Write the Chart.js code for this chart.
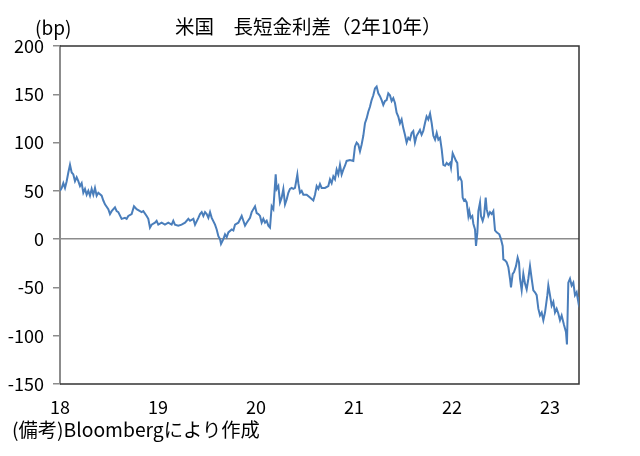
<!DOCTYPE html>
<html>
<head>
<meta charset="utf-8">
<script src="https://cdn.jsdelivr.net/npm/chart.js@4"></script>
<style>
  body { margin: 0; background: #fff; }
  #wrap { position: relative; width: 640px; height: 456px; font-family: "Noto Sans CJK JP", sans-serif; color: #000; }
  .lbl { position: absolute; white-space: nowrap; line-height: 1; }
</style>
</head>
<body>
<div id="wrap">
  <canvas id="spreadChart" width="640" height="456"></canvas>
  <div class="lbl" style="left:35px; top:17px; font-size:19px;">(bp)</div>
  <div class="lbl" style="left:175px; top:16px; font-size:19.5px;">米国　長短金利差（2年10年）</div>
  <div class="lbl" style="left:12px; top:420px; font-size:19.3px;">(備考)Bloombergにより作成</div>
</div>
<script>
// 年（18 = 2018年初）
var years = [
  18.000, 18.017, 18.034, 18.051, 18.068, 18.085, 18.102, 18.119, 18.136, 18.153,
  18.170, 18.187, 18.204, 18.221, 18.238, 18.255, 18.272, 18.289, 18.306, 18.323,
  18.340, 18.357, 18.374, 18.391, 18.425, 18.442, 18.459, 18.493, 18.510, 18.527,
  18.561, 18.578, 18.595, 18.629, 18.663, 18.680, 18.697, 18.731, 18.755, 18.782,
  18.816, 18.833, 18.850, 18.884, 18.901, 18.918, 18.935, 18.969, 18.986, 19.003,
  19.037, 19.071, 19.105, 19.139, 19.156, 19.173, 19.207, 19.241, 19.276, 19.310,
  19.327, 19.361, 19.378, 19.412, 19.429, 19.446, 19.463, 19.480, 19.497, 19.514,
  19.531, 19.548, 19.582, 19.599, 19.616, 19.633, 19.643, 19.667, 19.684, 19.701,
  19.718, 19.752, 19.769, 19.786, 19.820, 19.854, 19.871, 19.888, 19.905, 19.939,
  19.956, 19.990, 20.007, 20.024, 20.041, 20.058, 20.075, 20.092, 20.109, 20.126,
  20.143, 20.160, 20.177, 20.201, 20.211, 20.228, 20.245, 20.262, 20.279, 20.296,
  20.313, 20.330, 20.347, 20.364, 20.381, 20.398, 20.422, 20.432, 20.449, 20.466,
  20.483, 20.517, 20.551, 20.585, 20.602, 20.619, 20.636, 20.653, 20.670, 20.704,
  20.738, 20.755, 20.772, 20.789, 20.806, 20.823, 20.840, 20.857, 20.874, 20.891,
  20.908, 20.925, 20.959, 20.993, 21.010, 21.027, 21.044, 21.061, 21.078, 21.095,
  21.112, 21.129, 21.146, 21.163, 21.180, 21.197, 21.214, 21.231, 21.248, 21.265,
  21.282, 21.299, 21.316, 21.333, 21.350, 21.367, 21.384, 21.401, 21.418, 21.435,
  21.452, 21.469, 21.486, 21.503, 21.520, 21.537, 21.554, 21.571, 21.588, 21.605,
  21.622, 21.639, 21.656, 21.673, 21.690, 21.707, 21.724, 21.741, 21.758, 21.776,
  21.793, 21.810, 21.827, 21.844, 21.861, 21.878, 21.895, 21.912, 21.929, 21.946,
  21.963, 21.980, 21.990, 22.007, 22.020, 22.041, 22.054, 22.065, 22.082, 22.099,
  22.109, 22.122, 22.133, 22.150, 22.167, 22.177, 22.190, 22.207, 22.218, 22.235,
  22.245, 22.259, 22.269, 22.286, 22.296, 22.313, 22.327, 22.344, 22.354, 22.371,
  22.388, 22.405, 22.422, 22.439, 22.456, 22.483, 22.500, 22.517, 22.524, 22.541,
  22.558, 22.575, 22.592, 22.602, 22.619, 22.633, 22.653, 22.670, 22.684, 22.694,
  22.711, 22.728, 22.745, 22.762, 22.779, 22.796, 22.813, 22.830, 22.847, 22.864,
  22.881, 22.898, 22.915, 22.932, 22.949, 22.973, 22.983, 23.000, 23.017, 23.034,
  23.051, 23.068, 23.085, 23.102, 23.119, 23.143, 23.163, 23.173, 23.187, 23.204,
  23.221, 23.238, 23.255, 23.272, 23.289, 23.296
];

// 長短金利差（bp）
var spread = [
   50,  53,  58,  53,  60,  69,  77,  69,  67,  60,
   64,  60,  55,  58,  48,  52,  46,  50,  45,  52,
   46,  53,  45,  48,  45,  40,  36,  31,  26,  29,
   33,  29,  28,  21,  22,  21,  24,  26,  34,  31,
   29,  28,  29,  24,  21,  12,  15,  17,  19,  15,
   17,  15,  17,  15,  19,  15,  14,  15,  17,  21,
   19,  21,  15,  22,  26,  28,  24,  28,  26,  22,
   28,  22,  15,  10,   3,   0,  -5,   0,   5,   2,
    7,  10,   9,  15,  17,  24,  19,  14,  17,  22,
   28,  34,  27,  26,  24,  17,  21,  17,  19,  14,
   12,  34,  31,  67,  52,  55,  38,  43,  52,  36,
   41,  48,  52,  53,  52,  53,  67,  58,  48,  50,
   46,  46,  43,  40,  46,  55,  52,  57,  53,  53,
   55,  62,  58,  65,  62,  72,  67,  77,  67,  72,
   76,  81,  82,  81,  96, 100,  98,  91,  98, 107,
  120, 125, 132, 137, 144, 149, 156, 158, 151, 148,
  144, 139, 143, 144, 151, 149, 143, 146, 141, 131,
  127, 120, 124, 115, 108, 100, 105, 103, 110, 112,
  100, 107, 110, 113, 108, 112, 120, 127, 124, 130,
  120, 107, 103, 110, 103, 105,  93,  77,  76,  79,
   77,  79,  74,  89,  86,  81,  79,  62,  64,  60,
   43,  40,  41,  38,  24,  29,  22,  24,  16,  10,
   -7,   7,  29,  38,  24,  19,  24,  43,  31,  24,
   28,  26,  29,   9,   7,   5,   0,  -7, -21, -22,
  -24, -29, -41, -50, -36, -34, -28, -19, -24, -41,
  -53, -36, -46, -52, -41, -28, -41, -53, -55, -58,
  -72, -79, -76, -84, -76, -58, -48, -58, -69, -65,
  -76, -72, -77, -84, -79, -89, -96,-109, -45, -41,
  -48, -45, -58, -55, -65, -60
];

var xTicks = [18, 19, 20, 21, 22, 23];
var yMin = -150, yMax = 200, yStep = 50;

var points = years.map(function (t, i) { return { x: t, y: spread[i] }; });

// 枠線（上・右・下）
var framePlugin = {
  id: 'frame',
  beforeDatasetsDraw: function (chart) {
    var a = chart.chartArea, c = chart.ctx;
    c.save();
    c.strokeStyle = '#333';
    c.lineWidth = 1.5;
    c.beginPath();
    c.moveTo(a.left, a.top);
    c.lineTo(a.right, a.top);
    c.lineTo(a.right, a.bottom);
    c.lineTo(a.left, a.bottom);
    c.stroke();
    c.restore();
  }
};

var font = { family: '"Noto Sans CJK JP", sans-serif', size: 18 };

new Chart(document.getElementById('spreadChart').getContext('2d'), {
  type: 'line',
  data: {
    datasets: [{
      data: points,
      borderColor: '#4a7ebb',
      borderWidth: 2,
      pointRadius: 0,
      tension: 0,
      fill: false
    }]
  },
  options: {
    responsive: false,
    animation: false,
    layout: { padding: { left: 0, right: 61, top: 46, bottom: 42 } },
    plugins: { legend: { display: false }, tooltip: { enabled: false } },
    scales: {
      x: {
        type: 'linear',
        min: 18,
        max: 23.296,
        afterBuildTicks: function (s) { s.ticks = xTicks.map(function (v) { return { value: v }; }); },
        afterFit: function (s) { s.height = 30; },
        ticks: { color: '#000', font: font, padding: 12, maxRotation: 0, callback: function (v) { return v; } },
        grid: { display: false, drawTicks: false },
        border: { display: false }
      },
      y: {
        min: yMin,
        max: yMax,
        afterFit: function (s) { s.width = 60; },
        ticks: { stepSize: yStep, color: '#000', font: font, padding: 9 },
        grid: {
          color: function (c) { return c.tick && c.tick.value === 0 ? '#8c8c8c' : 'rgba(0,0,0,0)'; },
          lineWidth: 1.5,
          tickLength: 7,
          tickColor: '#8c8c8c',
          drawTicks: true
        },
        border: { display: true, color: '#8c8c8c', width: 2 }
      }
    }
  },
  plugins: [framePlugin]
});
</script>
</body>
</html>
